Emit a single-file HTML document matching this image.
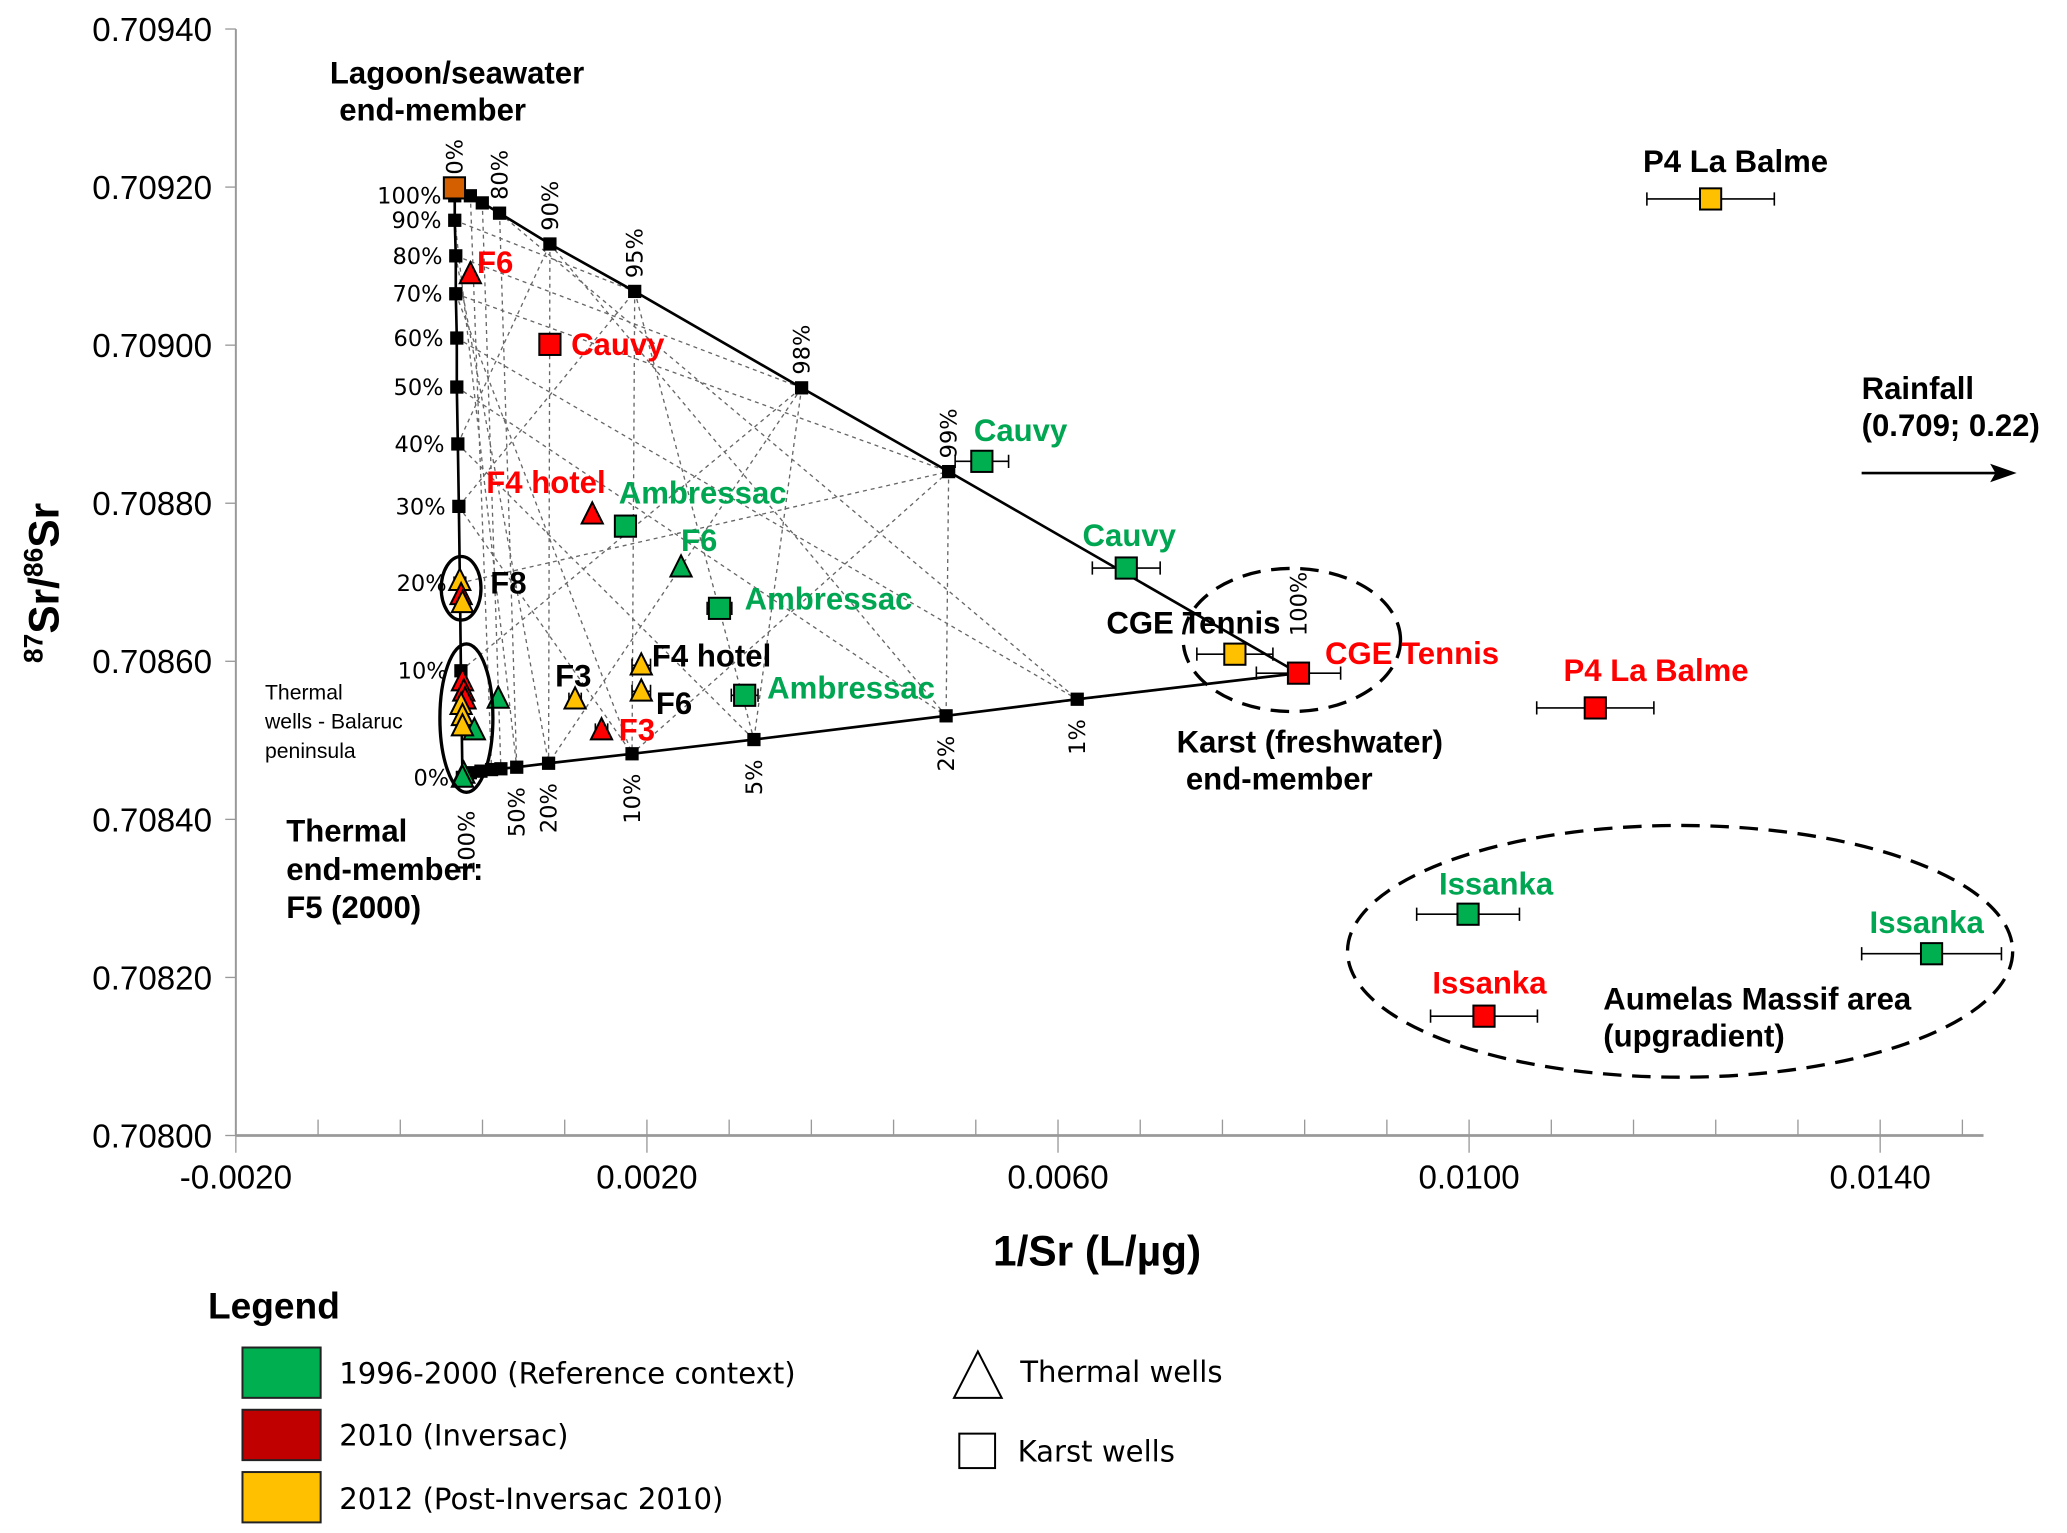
<!DOCTYPE html>
<html><head><meta charset="utf-8"><style>
html,body{margin:0;padding:0;background:#fff;}
svg{display:block;font-family:"Liberation Sans",Arial,sans-serif;}
.lbl{font-weight:bold;font-size:23.5px;}
.g{fill:#00a651}.r{fill:#ff0000}.k{fill:#000}
.pct{font-size:17px;fill:#000;font-family:"DejaVu Sans",sans-serif;}
.dv{font-family:"DejaVu Sans",sans-serif;}
</style></head><body>
<svg id="chart" width="2067" height="1533" viewBox="0 0 1560 1157" preserveAspectRatio="none" xmlns="http://www.w3.org/2000/svg">
<g id="axes"></g>
<g id="grid"></g>
<g id="mixlines"></g>
<g id="marks"></g>
<g fill="none" stroke="#000" stroke-width="2.5">
<ellipse cx="348" cy="444" rx="15" ry="24"/>
<ellipse cx="352" cy="542" rx="20" ry="56"/>
<ellipse cx="975" cy="483" rx="82" ry="54" stroke-dasharray="14,8"/>
<ellipse cx="1268" cy="718" rx="251" ry="95" stroke-dasharray="14,8"/>
</g>
<g>
<text class="lbl k" x="249" y="63">Lagoon/seawater</text>
<text class="lbl k" x="256" y="91">end-member</text>
<text class="lbl r" x="360" y="206">F6</text>
<text class="lbl r" x="431" y="268">Cauvy</text>
<text class="lbl r" x="367" y="372">F4 hotel</text>
<text class="lbl g" x="467" y="380">Ambressac</text>
<text class="lbl g" x="514" y="416">F6</text>
<text class="lbl g" x="562" y="460">Ambressac</text>
<text class="lbl g" x="579" y="527">Ambressac</text>
<text class="lbl g" x="735" y="333">Cauvy</text>
<text class="lbl g" x="817" y="412">Cauvy</text>
<text class="lbl k" x="835" y="478">CGE Tennis</text>
<text class="lbl r" x="1000" y="501">CGE Tennis</text>
<text class="lbl r" x="1180" y="514">P4 La Balme</text>
<text class="lbl k" x="1240" y="130">P4 La Balme</text>
<text class="lbl g" x="1086" y="675">Issanka</text>
<text class="lbl g" x="1411" y="704">Issanka</text>
<text class="lbl r" x="1081" y="750">Issanka</text>
<text class="lbl k" x="370" y="448">F8</text>
<text class="lbl k" x="419" y="518">F3</text>
<text class="lbl r" x="467" y="559">F3</text>
<text class="lbl k" x="492" y="503">F4 hotel</text>
<text class="lbl k" x="495" y="539">F6</text>
<text class="lbl k" x="888" y="568">Karst (freshwater)</text>
<text class="lbl k" x="895" y="596">end-member</text>
<text class="lbl k" x="1210" y="762">Aumelas Massif area</text>
<text class="lbl k" x="1210" y="790">(upgradient)</text>
<text class="lbl k" x="216" y="635">Thermal</text>
<text class="lbl k" x="216" y="664">end-member:</text>
<text class="lbl k" x="216" y="693">F5 (2000)</text>
<text class="k" font-size="16" x="200" y="528">Thermal</text>
<text class="k" font-size="16" x="200" y="550">wells - Balaruc</text>
<text class="k" font-size="16" x="200" y="572">peninsula</text>
<text class="lbl k" x="1405" y="301">Rainfall</text>
<text class="lbl k" x="1405" y="329">(0.709; 0.22)</text>
<line x1="1405" y1="357" x2="1510" y2="357" stroke="#000" stroke-width="2"/>
<polygon points="1522,357 1502,350 1506,357 1502,364" fill="#000"/>
</g>
<g id="pcts"></g>
<g>
<text x="157" y="995" font-size="28" font-weight="bold">Legend</text>
<rect x="183" y="1017" width="59" height="38" fill="#00b050" stroke="#222" stroke-width="1.5"/>
<text class="dv" x="256" y="1044" font-size="22">1996-2000 (Reference context)</text>
<rect x="183" y="1064" width="59" height="38" fill="#c00000" stroke="#222" stroke-width="1.5"/>
<text class="dv" x="256" y="1091" font-size="22">2010 (Inversac)</text>
<rect x="183" y="1111" width="59" height="38" fill="#ffc000" stroke="#222" stroke-width="1.5"/>
<text class="dv" x="256" y="1139" font-size="22">2012 (Post-Inversac 2010)</text>
<polygon points="738,1020 720,1055 756,1055" fill="#fff" stroke="#000" stroke-width="1.5"/>
<text class="dv" x="770" y="1043" font-size="22">Thermal wells</text>
<rect x="724" y="1082" width="27" height="26" fill="#fff" stroke="#000" stroke-width="1.5"/>
<text class="dv" x="768" y="1103" font-size="22">Karst wells</text>
</g>
</svg>
<script>
const xTicks=[-0.002,0.002,0.006,0.010,0.014];
const yTicks=[0.708,0.7082,0.7084,0.7086,0.7088,0.709,0.7092,0.7094];
const topX=[0.000127,0.000282,0.000398,0.000566,0.001056,0.001881,0.003505,0.004936,0.00834];
const topY=[0.709199,0.709189,0.70918,0.709167,0.709128,0.709068,0.708946,0.70884,0.708585];
const topPct=["0%","","","80%","90%","95%","98%","99%","100%"];
const leftX=[0.00013,0.00013,0.00014,0.00014,0.00015,0.00015,0.00016,0.00017,0.00018,0.00019,0.000205];
const leftY=[0.709189,0.709158,0.709113,0.709065,0.709009,0.708947,0.708875,0.708796,0.708699,0.708588,0.708453];
const leftPct=["100%","90%","80%","70%","60%","50%","40%","30%","20%","10%","0%"];
const botX=[0.000205,0.000282,0.000385,0.000488,0.000579,0.000733,0.001043,0.001855,0.003041,0.004911,0.006187,0.00834];
const botY=[0.708453,0.708459,0.708461,0.708463,0.708464,0.708466,0.708471,0.708483,0.708501,0.708531,0.708552,0.708585];
const botPct=["100%","","","","","50%","20%","10%","5%","2%","1%",""];
const gridPairs=[["T3","B5"],["T4","B6"],["T5","B7"],["T6","B8"],["T7","B9"],["T6","B6"],["T7","B7"],["T5","B8"],["T4","B9"],["T3","B10"],["L1","T5"],["L2","T6"],["L3","T7"],["L4","B10"],["L5","B9"],["L6","B8"],["L7","B7"],["L8","T7"],["L9","T6"],["L2","B6"],["L3","B7"],["L1","B5"],["T2","B4"],["T1","B3"],["L6","T4"],["L7","T5"],["T8","B9"],["T8","B10"]];
const sampleName=["Seawater","F6","Cauvy","F4 hotel","Ambressac","F6","Ambressac","F4 hotel","F6","F3","F3","Ambressac","Cauvy","Cauvy","CGE Tennis","CGE Tennis","P4 La Balme","P4 La Balme","Issanka","Issanka","Issanka","F8","F8","F8","T1","T2","T3","T4","T5","T6","T7","T8","T9","T10"];
const sampleX=[0.000127,0.000282,0.001056,0.001468,0.001791,0.002332,0.002706,0.001945,0.001945,0.001301,0.001558,0.002951,0.005259,0.006664,0.007721,0.00834,0.011228,0.01235,0.00999,0.0145,0.010145,0.000179,0.000192,0.000205,0.000205,0.000218,0.00023,0.000553,0.000192,0.000205,0.000321,0.000205,0.000218,0.000205];
const sampleY=[0.709199,0.70909,0.709001,0.708786,0.708771,0.708719,0.708667,0.708595,0.708562,0.708552,0.708513,0.708557,0.708853,0.708718,0.708609,0.708585,0.708541,0.709185,0.70828,0.70823,0.708151,0.708702,0.708684,0.708674,0.708575,0.708562,0.708552,0.708553,0.708545,0.708531,0.708513,0.708518,0.708458,0.708453];
const sampleErr=[0,0,0,0,0,0,0.00012,0.00009,0.00009,0.00006,0.00006,0.00013,0.00026,0.00033,0.00037,0.00041,0.00057,0.00062,0.0005,0.00068,0.00052,0,0,0,0,0,0,0,0,0,0,0,0,0];
const sampleYear=["sea","2010","2010","2010","1996","1996","1996","2012","2012","2012","2010","1996","1996","1996","2012","2010","2010","2012","1996","1996","2010","2012","2010","2012","2010","2010","2010","1996","2012","2012","1996","2012","1996","1996"];
const sampleType=["karst","thermal","karst","thermal","karst","thermal","karst","thermal","thermal","thermal","thermal","karst","karst","karst","karst","karst","karst","karst","karst","karst","karst","thermal","thermal","thermal","thermal","thermal","thermal","thermal","thermal","thermal","thermal","thermal","thermal","thermal"];

const NS="http://www.w3.org/2000/svg";
const X=v=>178+(v+0.002)*77562.5;
const Y=v=>857-(v-0.708)*596500;
function mk(tag,attrs,parent){const e=document.createElementNS(NS,tag);for(const k in attrs)e.setAttribute(k,attrs[k]);parent.appendChild(e);return e;}
const axes=document.getElementById('axes');
let e=mk('line',{x1:178,y1:22,x2:178,y2:857,stroke:'#999','stroke-width':1.5},axes);


e=mk('line',{x1:178,y1:857,x2:1497,y2:857,stroke:'#999','stroke-width':2},axes);


for(let v=-0.002;v<=0.0151;v+=0.0008){const px=X(v);mk('line',{x1:px,y1:857,x2:px,y2:845,stroke:'#999','stroke-width':1},axes);}
xTicks.forEach(v=>{const px=X(v);mk('line',{x1:px,y1:857,x2:px,y2:870,stroke:'#999','stroke-width':1},axes);
const t=mk('text',{x:px,y:897,'font-size':25,'text-anchor':'middle'},axes);t.textContent=v.toFixed(4);

});
yTicks.forEach(v=>{const py=Y(v);mk('line',{x1:170,y1:py,x2:178,y2:py,stroke:'#999','stroke-width':1},axes);
const t=mk('text',{x:160,y:py+9,'font-size':25,'text-anchor':'end'},axes);t.textContent=v.toFixed(5);

});
let t=mk('text',{x:828,y:955,'font-size':32,'font-weight':'bold','text-anchor':'middle'},axes);t.textContent='1/Sr (L/µg)';


t=mk('text',{x:0,y:0,'font-size':32,'font-weight':'bold','text-anchor':'middle',transform:'translate(44,440) rotate(-90)'},axes);
t.innerHTML='<tspan font-size="20" dy="-12">87</tspan><tspan dy="12">Sr/</tspan><tspan font-size="20" dy="-12">86</tspan><tspan dy="12">Sr</tspan>';



const P=id=>{const a=id[0],i=+id.slice(1);if(a==='T')return[topX[i],topY[i]];if(a==='L')return[leftX[i],leftY[i]];return[botX[i],botY[i]];};
const grid=document.getElementById('grid');
gridPairs.forEach(p=>{const a=P(p[0]),b=P(p[1]);const l=mk('line',{x1:X(a[0]),y1:Y(a[1]),x2:X(b[0]),y2:Y(b[1]),stroke:'#666','stroke-width':1,'stroke-dasharray':'3,3'},grid);

});
const ml=document.getElementById('mixlines'),pcts=document.getElementById('pcts');
[[topX,topY],[leftX,leftY],[botX,botY]].forEach(([xs,ys],k)=>{
const pl=mk('polyline',{points:xs.map((v,i)=>X(v)+','+Y(ys[i])).join(' '),fill:'none',stroke:'#000','stroke-width':2},ml);


xs.forEach((v,i)=>{const r=mk('rect',{x:X(v)-5,y:Y(ys[i])-5,width:10,height:10,fill:'#000'},ml);

});});
topX.forEach((v,i)=>{if(!topPct[i])return;const px=X(v)+6,py=Y(topY[i])-(i===8?28:10);const tt=mk('text',{x:px,y:py,class:'pct',transform:`rotate(-90 ${px} ${py})`},pcts);tt.textContent=topPct[i];});
leftX.forEach((v,i)=>{const tt=mk('text',{x:X(v)-10,y:Y(leftY[i])+6,class:'pct','text-anchor':'end'},pcts);tt.textContent=leftPct[i];});
botX.forEach((v,i)=>{if(!botPct[i])return;const px=X(v)+(i===0?9:6),py=Y(botY[i])+(i===0?25:15);const tt=mk('text',{x:px,y:py,class:'pct','text-anchor':'end',transform:`rotate(-90 ${px} ${py})`},pcts);tt.textContent=botPct[i];});

const col={sea:'#d35f00','1996':'#00b050','2010':'#ff0000','2012':'#ffc000'};
const marks=document.getElementById('marks');
sampleX.forEach((v,i)=>{const px=X(v),py=Y(sampleY[i]);
if(sampleErr[i]>0){const x1=X(v-sampleErr[i]),x2=X(v+sampleErr[i]);
const eb=mk('path',{d:`M${x1},${py}H${x2}M${x1},${py-5}V${py+5}M${x2},${py-5}V${py+5}`,stroke:'#000','stroke-width':1.2,fill:'none'},marks);

}
let m;
if(sampleType[i]==='karst'){m=mk('rect',{x:px-8,y:py-8,width:16,height:16,fill:col[sampleYear[i]],stroke:'#000','stroke-width':1.5},marks);}
else{m=mk('polygon',{points:`${px},${py-9} ${px-8},${py+7} ${px+8},${py+7}`,fill:col[sampleYear[i]],stroke:'#000','stroke-width':1.5},marks);}

});
</script>
</body></html>
